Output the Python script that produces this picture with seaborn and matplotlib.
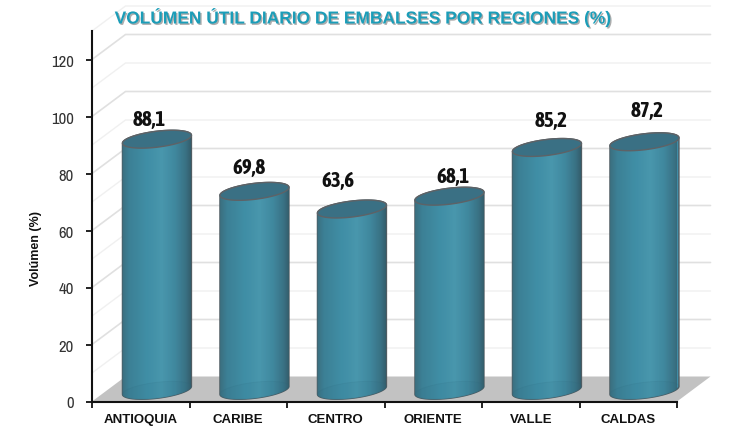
import numpy as np
import matplotlib
matplotlib.use("Agg")
import matplotlib.pyplot as plt
import matplotlib.patheffects as pe
from matplotlib.colors import LinearSegmentedColormap
from matplotlib.path import Path
from matplotlib.patches import PathPatch, Polygon
import pandas as pd
import seaborn as sns

categories = ["ANTIOQUIA", "CARIBE", "CENTRO", "ORIENTE", "VALLE", "CALDAS"]
values = [88.1, 69.8, 63.6, 68.1, 85.2, 87.2]
value_labels = ["88,1", "69,8", "63,6", "68,1", "85,2", "87,2"]
y_ticks = [0, 20, 40, 60, 80, 100, 120]

sns.set_theme(style="white")
plt.rcParams["font.family"] = ["Liberation Sans", "DejaVu Sans"]
NARROW_BOLD = ["Asap Condensed", "Liberation Sans", "DejaVu Sans"]
NARROW = ["Archivo Narrow", "Liberation Sans", "DejaVu Sans"]

W, H = 730, 427
fig = plt.figure(figsize=(W / 100, H / 100), dpi=100)
L, R, B, T = 92, 677, 402.5, 32
ax = fig.add_axes([L / W, 1 - B / H, (R - L) / W, (B - T) / H])
ax.patch.set_alpha(0)
YMAX = 130
sx = (R - L) / 6
sy = (B - T) / YMAX
DX, DY = 33.5 / sx, 25 / sy


def X(px):
    return px / sx


def Y(px):
    return px / sy


df = pd.DataFrame({"region": categories, "value": values})
sns.barplot(data=df, x="region", y="value", ax=ax, width=68 / sx, color="#3f8ea8",
            saturation=1, zorder=4, order=categories)
ax.set_xlim(-0.5, 5.5)
ax.set_ylim(0, YMAX)

# floor
ax.add_patch(Polygon([(-0.5, 0), (-0.5 + DX, DY), (5.5 + DX, DY), (5.5, 0)], closed=True,
                     fc="#c2c2c2", ec="none", clip_on=False, zorder=1))
# walls
for v in range(10, YMAX + 1, 10):
    c = "#e0e0e0" if v % 20 == 0 else "#f0f0f0"
    lw = 1.2 if v % 20 == 0 else 1.0
    ax.plot([-0.5, -0.5 + DX, 5.5 + DX], [v, v + DY, v + DY], color=c, lw=lw,
            clip_on=False, zorder=1, solid_joinstyle="miter")

cmap = LinearSegmentedColormap.from_list("cyl", [
    (0, "#3b6e7e"), (0.1, "#3c8095"), (0.35, "#408ea5"), (0.58, "#4a98ae"),
    (0.78, "#40879d"), (0.93, "#397082"), (1, "#345c6a")])

A, BE, K = 34.5, 8.0, 4.0
t = np.linspace(0, 2 * np.pi, 121)
SHIFT = 16.2 / sx, 11.2 / sy
ts = ax.transData
for i, (bar, v) in enumerate(zip(ax.patches[:len(values)], values)):
    cx = i + SHIFT[0]
    cb, ct = SHIFT[1], v + SHIFT[1]
    ex = X(A) * np.cos(t)
    ey = Y(BE) * np.sin(t) + Y(K) * np.cos(t)
    lo = np.linspace(np.pi, 2 * np.pi, 60)
    up = np.linspace(0, np.pi, 60)
    bx = cx + X(A) * np.cos(lo)
    by = cb + Y(BE) * np.sin(lo) + Y(K) * np.cos(lo)
    tx = cx + X(A) * np.cos(up)
    ty = ct + Y(BE) * np.sin(up) + Y(K) * np.cos(up)
    verts = np.column_stack([np.r_[bx, tx], np.r_[by, ty]])
    bar.set_visible(False)
    outline = Path(np.vstack([verts, verts[0]]))
    ax.add_patch(PathPatch(outline, fc="#3f8ea8", ec="#4f5c62", lw=1.0,
                           transform=ts, clip_on=False, zorder=4))
    img = ax.imshow(np.linspace(0, 1, 128)[None, :], cmap=cmap, aspect="auto", alpha=0.96,
                    extent=[cx - X(A), cx + X(A), 0, YMAX], zorder=4.1)
    img.set_clip_path(PathPatch(outline, transform=ts))
    ax.add_patch(Polygon(np.column_stack([cx + ex, cb + ey]), closed=True, fc="#2f6f86", alpha=0.12,
                         ec="#2d6478", lw=0.6, zorder=4.2, clip_on=False))
    ax.add_patch(Polygon(np.column_stack([cx + ex, ct + ey]), closed=True, fc="#3a7084",
                         ec="#5e6266", lw=1.0, zorder=4.3, clip_on=False))
ax.set_xlim(-0.5, 5.5)
ax.set_ylim(0, YMAX)

# value labels: pixel offsets from the bar centre and the bar top
label_dx = [-8, -5.5, -14, 3.5, 4, 2.5]
label_dy = [31, 36, 40, 31, 39, 43]
for i, (v, s) in enumerate(zip(values, value_labels)):
    ax.text(i + X(16.2 + label_dx[i]), v + Y(label_dy[i]), s, ha="center", va="center",
            fontsize=15, fontweight="bold", color="#111111", zorder=6, family=NARROW_BOLD)

for s in ["top", "right"]:
    ax.spines[s].set_visible(False)
for s in ["left", "bottom"]:
    ax.spines[s].set_visible(True)
    ax.spines[s].set_color("#111111")
    ax.spines[s].set_linewidth(1.5)
    ax.spines[s].set_zorder(7)
ax.set_yticks(y_ticks)
ax.set_yticklabels([str(v) for v in y_ticks], fontsize=12, color="#333333", family=NARROW)
ax.set_xticks(np.arange(-0.5, 6, 1))
ax.set_xticklabels([])
ax.set_xticks(np.arange(6), minor=True)
ax.set_xticklabels(categories, minor=True, fontsize=9.5, fontweight="bold", color="#111111")
ax.tick_params(axis="x", which="major", length=4, width=1.3, color="#111111", bottom=True)
ax.tick_params(axis="x", which="minor", length=0, pad=8.5, bottom=False)
ax.tick_params(axis="y", length=4, width=1.3, color="#111111", left=True, pad=9)
ax.set_xlabel("")
ax.set_ylabel("")
fig.text(36.5 / W, 1 - 248 / H, "Volúmen (%)", rotation=90, ha="center", va="center",
         fontsize=9, fontweight="bold", color="#111111")
fig.text(362.5 / W, 1 - 18.5 / H, "VOLÚMEN ÚTIL DIARIO DE EMBALSES POR REGIONES (%)",
         ha="center", va="center", fontsize=12.5, fontweight="bold", color="#1b9db8",
         path_effects=[pe.withSimplePatchShadow(offset=(1, -1), shadow_rgbFace="#8a8a8a", alpha=0.7)])
fig.savefig("out.png", dpi=100)
